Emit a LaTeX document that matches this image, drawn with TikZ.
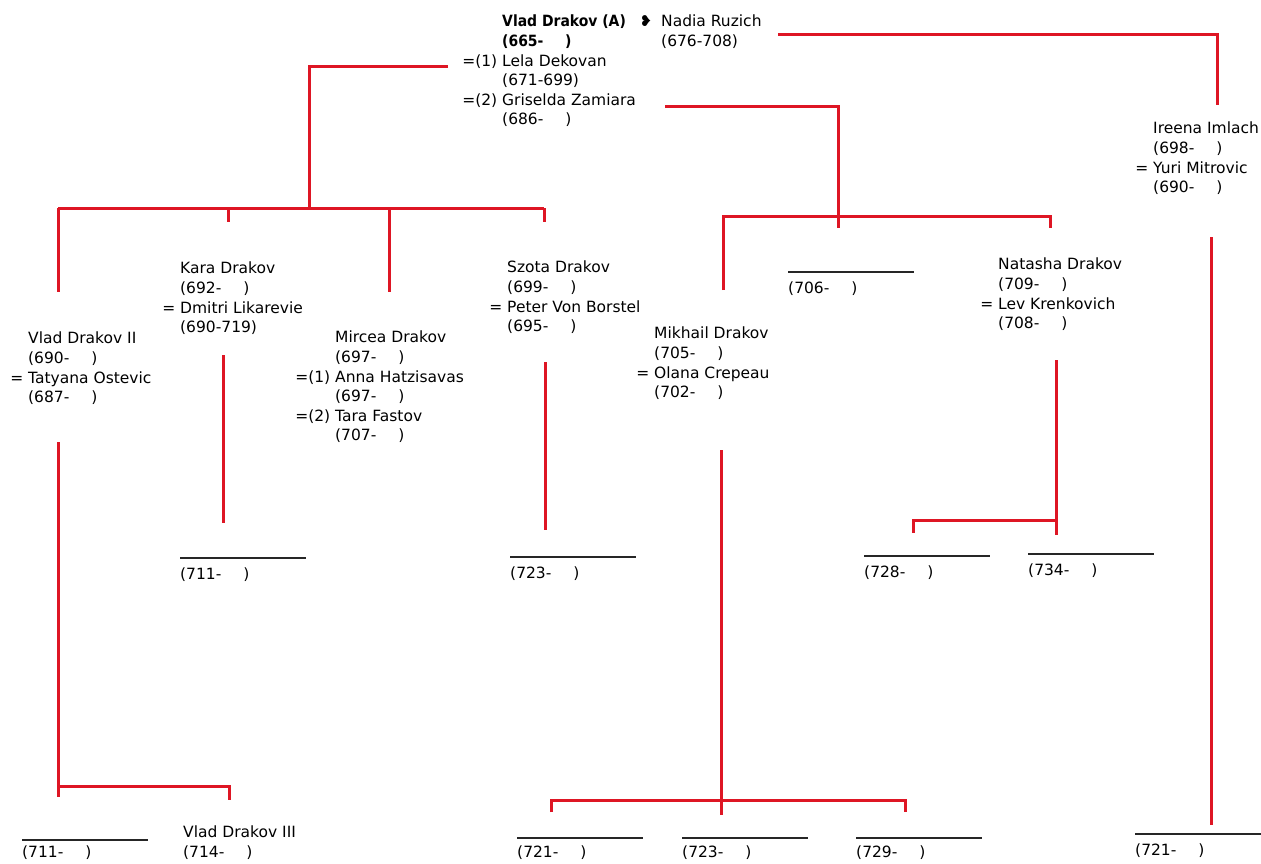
\documentclass[tikz,border=0pt]{standalone}
\usepackage{fontspec}
\usepackage{graphicx}
\setmainfont{DejaVu Sans}
\newfontfamily\symfont{DejaVu Sans}
\definecolor{lred}{RGB}{222,22,36}
\newcommand{\yrs}[1]{(#1-\hspace{22pt})}
\newcommand{\bname}[1]{\scalebox{0.9}[1]{\bfseries #1}}
\begin{document}
\begin{tikzpicture}[x=1pt,y=-1pt,
  person/.style={anchor=north west, inner sep=0pt, align=left, font=\fontsize{15.5}{19.6}\selectfont},
  slottext/.style={anchor=north west, inner sep=0pt, font=\fontsize{15.5}{20}\selectfont},
  rline/.style={draw=lred, line width=3pt},
  bline/.style={draw=black!85, line width=1.2pt}]
\useasboundingbox (0,0) rectangle (1261,863);
\fill[white] (0,0) rectangle (1261,863);

% persons
\node[person] (vlad) at (502,15) {\bname{Vlad Drakov (A)}\\\bname{(665-\hspace{24pt})}\\\llap{=(1) }Lela Dekovan\\(671-699)\\\llap{=(2) }Griselda Zamiara\\\yrs{686}};
\node[inner sep=0pt, font=\symfont\fontsize{15}{15}\selectfont] (heart) at (646,21) {❥};
\node[person] (nadia) at (661,15) {Nadia Ruzich\\(676-708)};
\node[person] (ireena) at (1153,122) {Ireena Imlach\\\yrs{698}\\\llap{= }Yuri Mitrovic\\\yrs{690}};
\node[person] (vlad2) at (28,332) {Vlad Drakov II\\\yrs{690}\\\llap{= }Tatyana Ostevic\\\yrs{687}};
\node[person] (kara) at (180,262) {Kara Drakov\\\yrs{692}\\\llap{= }Dmitri Likarevie\\(690-719)};
\node[person] (mircea) at (335,331) {Mircea Drakov\\\yrs{697}\\\llap{=(1) }Anna Hatzisavas\\\yrs{697}\\\llap{=(2) }Tara Fastov\\\yrs{707}};
\node[person] (szota) at (507,261) {Szota Drakov\\\yrs{699}\\\llap{= }Peter Von Borstel\\\yrs{695}};
\node[person] (mikhail) at (654,327) {Mikhail Drakov\\\yrs{705}\\\llap{= }Olana Crepeau\\\yrs{702}};
\node[person] (natasha) at (998,258) {Natasha Drakov\\\yrs{709}\\\llap{= }Lev Krenkovich\\\yrs{708}};
\node[person] (vlad3) at (183,826) {Vlad Drakov III\\\yrs{714}};

% unnamed children: line with birth year below
\foreach \nm/\x/\y/\d/\yr in {s706/788/272/10/706, s711a/180/558/10/711, s723a/510/557/10/723,
  s728/864/556/10/728, s734/1028/554/10/734, s711b/22/840/6/711, s721a/517/838/8/721,
  s723b/682/838/8/723, s729/856/838/8/729, s721b/1135/834/10/721}{
  \draw[bline] (\x,\y) -- ++(126,0);
  \node[slottext] (\nm) at (\x,\y+\d) {\yrs{\yr}};
}

% connectors
\coordinate (a1) at (448,66);  \coordinate (a2) at (309,66);  \coordinate (a3) at (309,208);
\draw[rline] (a1) -- (a2) -- (a3);
\coordinate (b1) at (58,208); \coordinate (b2) at (544,208);
\draw[rline] (b1) -- (b2);
\draw[rline] (b1) -- (58,292);
\draw[rline] (228,208) -- (228,222);
\draw[rline] (389,208) -- (389,292);
\draw[rline] (b2) -- (544,222);

\coordinate (c1) at (778,34); \coordinate (c2) at (1217,34); \coordinate (c3) at (1217,105);
\draw[rline] (c1) -- (c2) -- (c3);

\coordinate (d1) at (665,106); \coordinate (d2) at (838,106); \coordinate (d3) at (838,228);
\draw[rline] (d1) -- (d2) -- (d3);
\coordinate (e1) at (723,290); \coordinate (e2) at (723,216); \coordinate (e3) at (1050,216); \coordinate (e4) at (1050,228);
\draw[rline] (e1) -- (e2) -- (e3) -- (e4);

\draw[rline] (223,355) -- (223,523);
\draw[rline] (545,362) -- (545,530);

\coordinate (n1) at (1056,360); \coordinate (n2) at (1056,535);
\draw[rline] (n1) -- (n2);
\draw[rline] (1056,520) -- (913,520) -- (913,533);

\coordinate (m1) at (721,450); \coordinate (m2) at (721,815);
\draw[rline] (m1) -- (m2);
\draw[rline] (551,812) -- (551,800) -- (905,800) -- (905,812);

\coordinate (v1) at (58,442); \coordinate (v2) at (58,797);
\draw[rline] (v1) -- (v2);
\draw[rline] (58,786) -- (229,786) -- (229,800);

\draw[rline] (1211,237) -- (1211,825);
\end{tikzpicture}
\end{document}
